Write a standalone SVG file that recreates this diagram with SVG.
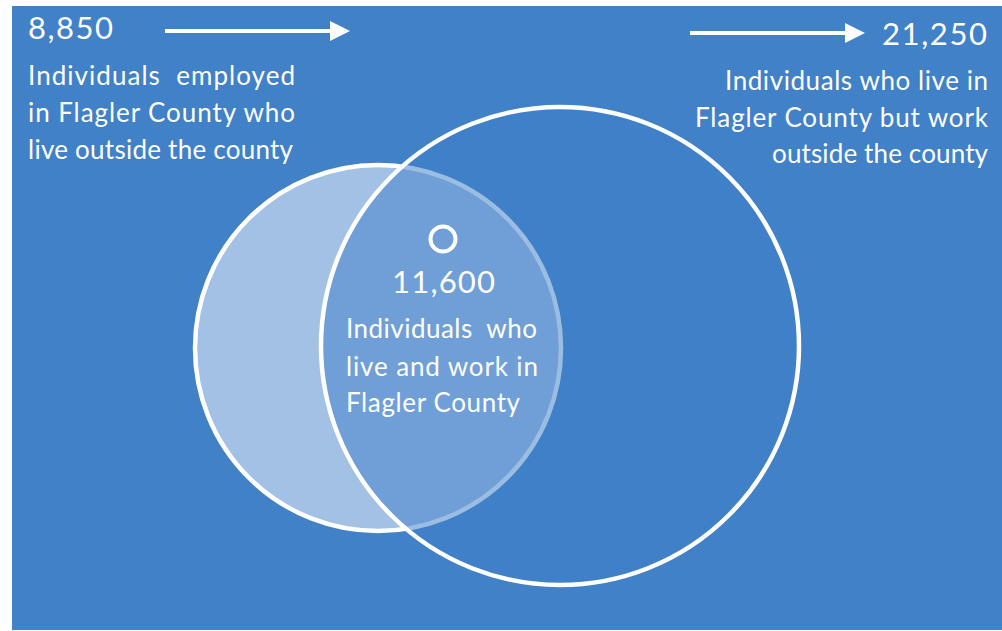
<svg xmlns="http://www.w3.org/2000/svg" width="1002" height="631" viewBox="0 0 1002 631">
  <defs>
    <style>
      .t { font-family: Lato, "Liberation Sans", sans-serif; fill: #ffffff; white-space: pre; }
      .num { font-size: 31px; }
      .body { font-size: 26px; }
      .conn { stroke: #ffffff; stroke-width: 4; fill: none; }
    </style>
    <marker id="ah" markerWidth="5" markerHeight="5" refX="1" refY="2.5" orient="auto" markerUnits="strokeWidth">
      <path d="M0,0 L5,2.5 L0,5 Z" fill="#ffffff"/>
    </marker>
  </defs>
  <rect x="12" y="6" width="990" height="624" fill="#4081C8"/>

  <g id="left-circle">
    <circle cx="378" cy="348" r="183" fill="#A3C0E5" stroke="#ffffff" stroke-width="4.5"/>
  </g>
  <g id="right-circle">
    <circle cx="560" cy="346" r="239" fill="#4081C8" fill-opacity="0.52" stroke="#ffffff" stroke-width="4.5"/>
  </g>

  <g id="connectors">
    <line class="conn" x1="165" y1="31" x2="334" y2="31" marker-end="url(#ah)"/>
    <line class="conn" x1="690" y1="33" x2="849" y2="33" marker-end="url(#ah)"/>
  </g>

  <g id="node-outside-workers">
    <text class="t num" x="28" y="39" textLength="85">8,850</text>
    <text class="t body" x="28" y="85" textLength="267">Individuals  employed</text>
    <text class="t body" x="28" y="122" textLength="267">in Flagler County who</text>
    <text class="t body" x="28" y="159" textLength="265">live outside the county</text>
  </g>

  <g id="node-outside-residents">
    <text class="t num" x="987" y="45" text-anchor="end" textLength="105">21,250</text>
    <text class="t body" x="988" y="90" text-anchor="end" textLength="263">Individuals who live in</text>
    <text class="t body" x="988" y="127" text-anchor="end" textLength="293">Flagler County but work</text>
    <text class="t body" x="988" y="163" text-anchor="end" textLength="216">outside the county</text>
  </g>

  <g id="node-live-and-work">
    <circle cx="443" cy="239" r="12.5" fill="none" stroke="#ffffff" stroke-width="4"/>
    <text class="t num" x="392" y="293" textLength="103">11,600</text>
    <text class="t body" x="346" y="338" textLength="191">Individuals  who</text>
    <text class="t body" x="346" y="376" textLength="192">live and work in</text>
    <text class="t body" x="346" y="412" textLength="174">Flagler County</text>
  </g>
</svg>
